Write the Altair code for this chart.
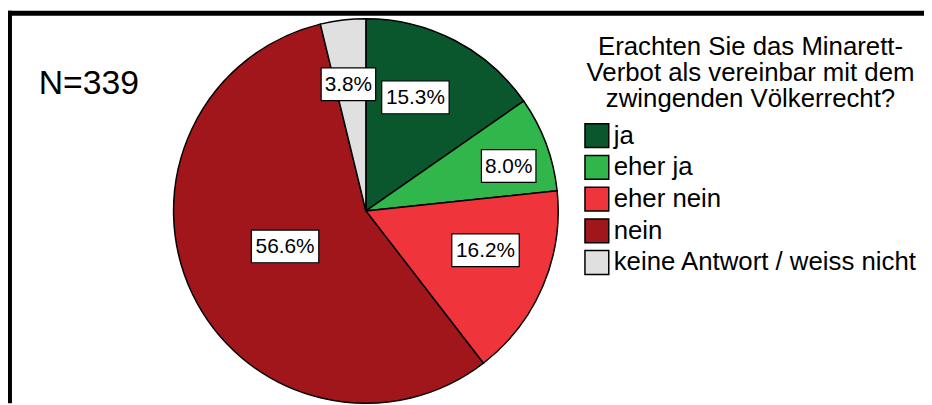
import altair as alt
import pandas as pd

# ---- data ----
categories = ["ja", "eher ja", "eher nein", "nein", "keine Antwort / weiss nicht"]
percent = [15.3, 8.0, 16.2, 56.6, 3.8]
pct_labels = ["15.3%", "8.0%", "16.2%", "56.6%", "3.8%"]
n_total = 339
legend_title = ["Erachten Sie das Minarett-", "Verbot als vereinbar mit dem", "zwingenden Völkerrecht?"]

# ---- styling / layout ----
colors = ["#0b572d", "#30b64a", "#f0343c", "#a0161b", "#e0e0e0"]
label_radius = [125, 151, 127, 89, 129]
label_angle_adjust = [-4, 3, -5, 2, -1]  # degrees
CX, CY, R = 361, 203, 194
FONT = "Liberation Sans"

df = pd.DataFrame({
    "cat": categories,
    "pct": percent,
    "label": pct_labels,
    "order": list(range(len(categories))),
    "lr": label_radius,
    "da": label_angle_adjust,
})

base = alt.Chart(df)

pie = base.mark_arc(radius=R, stroke="black", strokeWidth=1.5).encode(
    theta=alt.Theta("pct:Q", stack=True),
    order=alt.Order("order:Q"),
    color=alt.Color(
        "cat:N",
        scale=alt.Scale(domain=categories, range=colors),
        sort=categories,
        legend=alt.Legend(
            title=legend_title,
            orient="none",
            legendX=581,
            legendY=25,
            titleFont=FONT,
            titleFontSize=26,
            titleFontWeight="normal",
            titleColor="black",
            titleLineHeight=26,
            titleAnchor="middle",
            titleAlign="center",
            titleLimit=600,
            titlePadding=11,
            labelFont=FONT,
            labelFontSize=26,
            labelColor="black",
            labelOffset=4,
            labelLimit=500,
            symbolType="square",
            symbolSize=576,
            symbolStrokeColor="black",
            symbolStrokeWidth=1.5,
            symbolOpacity=1,
            rowPadding=2,
            padding=0,
        ),
    ),
    x=alt.value(CX),
    y=alt.value(CY),
)

lab = base.transform_window(
    cum="sum(pct)", sort=[alt.SortField("order")], frame=[None, 0]
).transform_joinaggregate(
    total="sum(pct)"
).transform_calculate(
    mid="2*PI*(datum.cum - datum.pct/2)/datum.total + datum.da*PI/180",
).transform_calculate(
    lx=f"{CX} + datum.lr*sin(datum.mid)",
    ly=f"{CY} - datum.lr*cos(datum.mid)",
    hw="(13*length(datum.label)+3)/2",
).transform_calculate(
    bx1="datum.lx - datum.hw",
    bx2="datum.lx + datum.hw",
    by1="datum.ly - 16.5",
    by2="datum.ly + 16.5",
)

boxes = lab.mark_rect(fill="white", stroke="black", strokeWidth=1.2).encode(
    x=alt.X("bx1:Q", scale=None, axis=None),
    x2="bx2:Q",
    y=alt.Y("by1:Q", scale=None, axis=None),
    y2="by2:Q",
)

texts = lab.mark_text(font=FONT, fontSize=21, align="center", baseline="middle", color="black", dy=1).encode(
    x=alt.X("lx:Q", scale=None, axis=None),
    y=alt.Y("ly:Q", scale=None, axis=None),
    text="label:N",
)

ntext = alt.Chart(pd.DataFrame({"n": [n_total]})).mark_text(
    font=FONT, fontSize=34, align="left", baseline="alphabetic", color="black"
).encode(
    x=alt.value(31),
    y=alt.value(85),
    text=alt.Text("label:N"),
).transform_calculate(label="'N=' + datum.n")

border_top = alt.Chart(pd.DataFrame({"n": [n_total]})).mark_rule(color="black", strokeWidth=5).encode(
    x=alt.value(0), x2=alt.value(924), y=alt.value(3.5)
)
border_left = alt.Chart(pd.DataFrame({"n": [n_total]})).mark_rule(color="black", strokeWidth=4).encode(
    x=alt.value(2), y=alt.value(1), y2=alt.value(397)
)

chart = alt.layer(pie, boxes, texts, ntext, border_top, border_left).properties(
    width=924, height=397, padding=0, autosize=alt.AutoSizeParams(type="none"),
    background="white",
).configure_view(stroke=None)

chart.save("out.html", embed_options={"renderer": "svg", "actions": False})
